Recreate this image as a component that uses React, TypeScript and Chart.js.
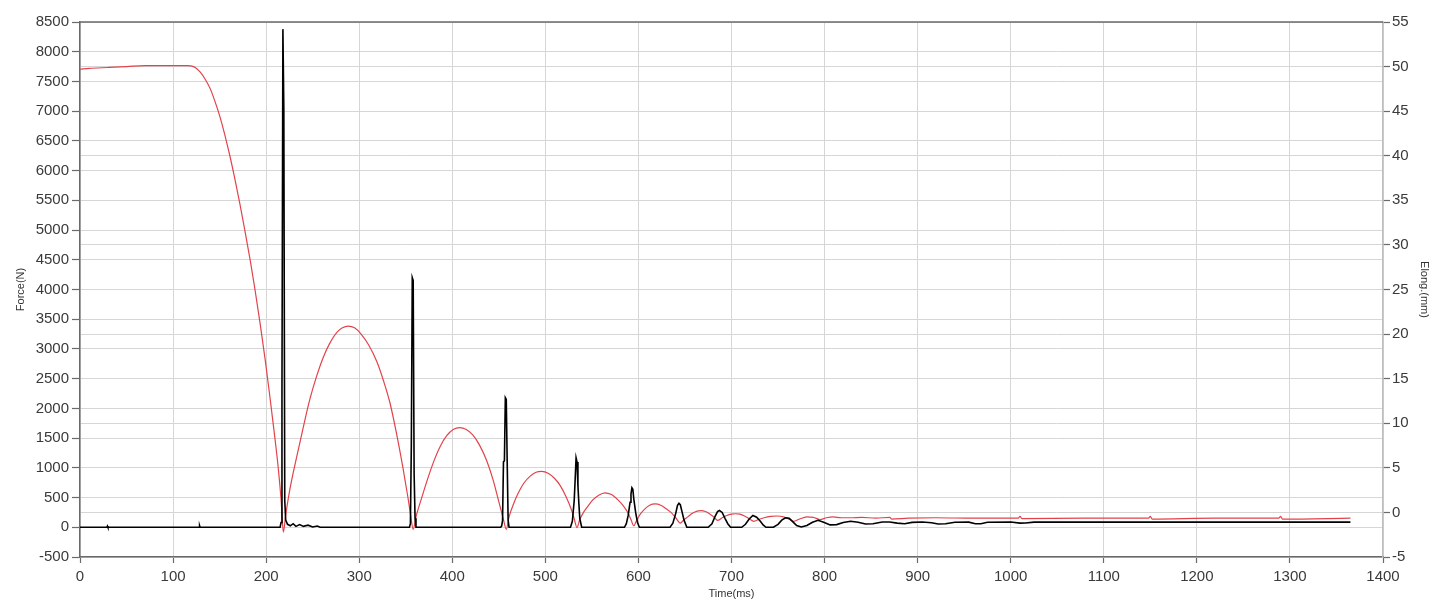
import React, { useEffect, useRef } from "react";
import { Chart, registerables } from "chart.js";

Chart.register(...registerables);

// ---- Axis ranges / tick steps ----
const timeRange = [0, 1400];
const timeStep = 100;
const forceRange = [-500, 8500];
const forceStep = 500;
const elongRange = [-5, 55];
const elongStep = 5;

const xTitle = "Time(ms)";
const leftTitle = "Force(N)";
const rightTitle = "Elong.(mm)";

// ---- Force (N) samples: [time ms, force N] ----
const forceSamples: [number, number][] = [
  [0, 0], [29, 0], [29.5, 20], [30, 0], [128, 0], [128.5, 25], [129, 0],
  [215, 0], [216, 80], [217, 2300], [218, 8380], [219, 7040], [220, 450], [221, 120],
  [223, 50], [226, 25], [229, 60], [232, 15], [236, 45], [240, 15], [245, 35], [250, 5], [255, 20], [258, 0],
  [354, 0], [355, 60], [356, 1380], [357, 4200], [358, 4150], [359, 900], [360, 150], [361, 0],
  [452, 0], [453, 20], [454, 110], [455, 1100], [456, 1120], [457, 2180], [458, 2150], [459, 1100], [460, 120], [461, 0],
  [527, 0], [529, 100], [531, 450], [532, 800], [533, 1170], [534, 1100], [535, 700], [536, 400], [537, 150], [539, 0],
  [585, 0], [587, 60], [589, 200], [591, 420], [592, 560], [593, 665], [594, 640], [595, 480], [597, 250], [599, 80], [601, 0],
  [634, 0], [637, 70], [640, 230], [642, 370], [643.5, 405], [645, 380], [647, 250], [649, 120], [652, 0],
  [675, 0], [679, 60], [682, 170], [685, 265], [687, 282], [690, 250], [693, 150], [696, 60], [699, 0],
  [711, 0], [715, 50], [719, 140], [723, 198], [727, 170], [731, 100], [734, 40], [737, 0],
  [745, 0], [750, 50], [754, 120], [758, 159], [762, 150], [766, 90], [770, 30], [775, 5],
  [781, 30], [787, 85], [793, 118], [799, 85], [806, 40], [813, 45], [820, 80], [828, 102], [836, 85],
  [844, 55], [852, 60], [862, 88], [870, 90], [878, 70], [886, 60], [894, 82], [905, 90], [915, 75],
  [922, 55], [930, 60], [940, 85], [955, 86], [962, 60], [968, 60], [975, 85], [1000, 88], [1010, 70],
  [1016, 72], [1025, 86], [1100, 86], [1200, 86], [1300, 86], [1365, 86],
];

// ---- Elongation (mm) samples: [time ms, elong mm] ----
const elongSamples: [number, number][] = [
  [0, 49.7], [10, 49.8], [30, 49.9], [50, 50.0], [70, 50.1], [100, 50.1], [115, 50.1], [122, 50.0],
  [129, 49.4], [135, 48.5], [140, 47.5], [145, 46.1], [150, 44.5], [155, 42.6], [161, 40.0], [166, 37.6],
  [172, 34.5], [177, 31.7], [183, 28.2], [188, 25.0], [193.5, 21.2], [199, 17.1], [204, 13.0], [209, 8.7],
  [213, 5.0], [216, 1.5], [218.5, -2.2], [221, -0.3],
  [225, 2.3], [229, 4.4], [233, 6.3], [240, 9.6], [247, 12.7], [254, 15.2], [261, 17.3], [268, 18.9],
  [276, 20.2], [282, 20.7], [288, 20.9], [295, 20.7], [302, 20.0], [310, 18.8], [319, 16.9], [326, 14.8],
  [333, 12.3], [340, 8.9], [347, 5.0], [352, 1.9], [355, -0.1], [358, -1.9], [361, -0.5],
  [367, 1.6], [373, 3.6], [380, 5.7], [387, 7.4], [394, 8.6], [401, 9.3], [408, 9.5], [415, 9.3],
  [422, 8.7], [429, 7.6], [437, 5.8], [444, 3.6], [450, 1.2], [455, -0.8], [458, -1.9], [461, -0.5],
  [466, 1.0], [471, 2.2], [477, 3.3], [484, 4.1], [490, 4.5], [496, 4.6], [503, 4.4], [510, 3.8],
  [516, 3.0], [522, 1.8], [528, 0.3], [531, -0.7], [534, -1.7], [537, -0.8],
  [541, 0.0], [545, 0.6], [551, 1.4], [557, 1.9], [564, 2.2], [571, 2.0], [578, 1.4], [584, 0.7],
  [589, -0.1], [592, -0.8], [595, -1.5], [598, -0.9],
  [602, -0.2], [607, 0.4], [612, 0.8], [618, 0.95], [624, 0.8], [630, 0.4], [635, 0.0], [640, -0.6], [645, -1.2],
  [649, -0.8], [653, -0.5], [658, -0.1], [663, 0.15], [667, 0.2], [672, 0.1], [677, -0.2], [681, -0.5], [685, -0.9],
  [690, -0.6], [695, -0.35], [700, -0.2], [704, -0.15], [709, -0.2], [714, -0.4], [719, -0.7], [724, -1.0],
  [729, -0.8], [735, -0.6], [742, -0.45], [749, -0.4], [756, -0.5], [762, -0.75], [767, -1.0],
  [772, -0.8], [781, -0.5], [788, -0.55], [795, -0.8], [802, -0.6], [809, -0.5], [818, -0.6], [828, -0.6],
  [840, -0.55], [855, -0.65], [870, -0.55], [872, -0.75], [890, -0.65], [920, -0.6], [960, -0.65],
  [1008, -0.65], [1010, -0.45], [1012, -0.7], [1080, -0.65], [1148, -0.65], [1150, -0.45], [1152, -0.75],
  [1220, -0.65], [1288, -0.65], [1290, -0.45], [1292, -0.75], [1365, -0.65],
];

const FONT = "'Liberation Sans', Arial, sans-serif";
const TICK_COLOR = "#3a3a3a";
const GRID_COLOR = "#d6d6d6";
const AXIS_DARK = "#6a6a6a";
const AXIS_LIGHT = "#bdbdbd";

const topBorder = {
  id: "topBorder",
  afterDatasetsDraw(chart: any) {
    const { ctx, chartArea } = chart;
    ctx.save();
    ctx.strokeStyle = AXIS_DARK;
    ctx.lineWidth = 1.5;
    ctx.beginPath();
    ctx.moveTo(chartArea.left, chartArea.top);
    ctx.lineTo(chartArea.right, chartArea.top);
    ctx.stroke();
    ctx.restore();
  },
};

export default function App() {
  const canvasRef = useRef<HTMLCanvasElement | null>(null);

  useEffect(() => {
    if (!canvasRef.current) return;
    const chart = new Chart(canvasRef.current, {
      type: "line",
      data: {
        datasets: [
          {
            label: "Force",
            data: forceSamples.map(([t, v]) => ({ x: t, y: v })),
            yAxisID: "y",
            borderColor: "#000000",
            borderWidth: 1.6,
            pointRadius: 0,
            tension: 0,
            order: 0,
          },
          {
            label: "Elong",
            data: elongSamples.map(([t, v]) => ({ x: t, y: v })),
            yAxisID: "y1",
            borderColor: "#e2434b",
            borderWidth: 1.2,
            pointRadius: 0,
            cubicInterpolationMode: "monotone",
            order: 1,
          },
        ],
      },
      options: {
        animation: false,
        responsive: false,
        devicePixelRatio: 1,
        parsing: false as any,
        layout: { padding: { top: 22, left: 0, right: 0, bottom: 0 } },
        plugins: {
          legend: { display: false },
          tooltip: { enabled: false },
        },
        scales: {
          x: {
            type: "linear",
            position: "bottom",
            min: timeRange[0],
            max: timeRange[1],
            afterFit: (s: any) => { s.height = 51; },
            grid: { color: GRID_COLOR, lineWidth: 1, tickLength: 6, tickColor: AXIS_DARK, tickWidth: 1.2 },
            border: { color: AXIS_DARK, width: 1.5 },
            ticks: {
              stepSize: timeStep,
              autoSkip: false,
              maxRotation: 0,
              padding: 5,
              color: TICK_COLOR,
              font: { family: FONT, size: 15 },
              callback: (v: any) => String(v),
            },
            title: {
              display: true,
              text: xTitle,
              color: "#333",
              font: { family: FONT, size: 11 },
              padding: { top: 0, bottom: 7 },
            },
          },
          y: {
            type: "linear",
            position: "left",
            min: forceRange[0],
            max: forceRange[1],
            afterFit: (s: any) => { s.width = 80; },
            grid: { color: GRID_COLOR, lineWidth: 1, tickLength: 8, tickColor: AXIS_DARK, tickWidth: 1.2 },
            border: { color: AXIS_DARK, width: 1.5 },
            ticks: {
              stepSize: forceStep,
              autoSkip: false,
              padding: 3,
              color: TICK_COLOR,
              font: { family: FONT, size: 15 },
              callback: (v: any) => String(v),
            },
            title: {
              display: true,
              text: leftTitle,
              color: "#333",
              font: { family: FONT, size: 11 },
              padding: { top: 14, bottom: 0 },
            },
          },
          y1: {
            type: "linear",
            position: "right",
            min: elongRange[0],
            max: elongRange[1],
            afterFit: (s: any) => { s.width = 62; },
            grid: { color: GRID_COLOR, lineWidth: 1, tickLength: 7, tickColor: AXIS_DARK, tickWidth: 1.2 },
            border: { color: AXIS_LIGHT, width: 1.5 },
            ticks: {
              stepSize: elongStep,
              autoSkip: false,
              padding: 2,
              color: TICK_COLOR,
              font: { family: FONT, size: 15 },
              callback: (v: any) => String(v),
            },
            title: {
              display: true,
              text: rightTitle,
              color: "#333",
              font: { family: FONT, size: 11 },
              padding: { top: 14, bottom: 0 },
            },
          },
        },
      } as any,
      plugins: [topBorder],
    });
    return () => chart.destroy();
  }, []);

  return (
    <div style={{ position: "absolute", left: 0, top: 0, width: 1445, height: 608, background: "#fff" }}>
      <canvas ref={canvasRef} width={1445} height={608} style={{ display: "block" }} />
    </div>
  );
}
